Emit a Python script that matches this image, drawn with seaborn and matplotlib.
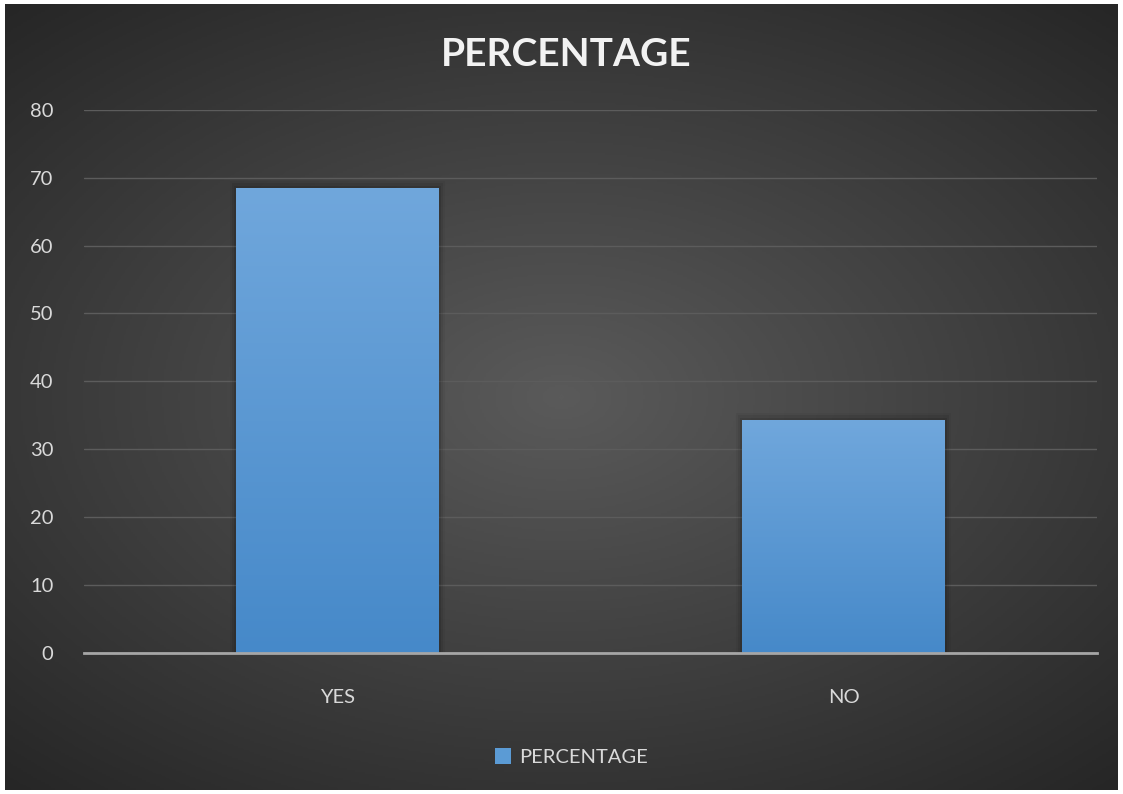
import numpy as np
import pandas as pd
import matplotlib
matplotlib.use("Agg")
import matplotlib.pyplot as plt
import seaborn as sns
from matplotlib.colors import LinearSegmentedColormap

categories = ["YES", "NO"]
percentage = [68.5, 34.3]
yticks = [0, 10, 20, 30, 40, 50, 60, 70, 80]
title = "PERCENTAGE"
legend_label = "PERCENTAGE"

df = pd.DataFrame({"category": categories, "value": percentage})

sns.set_theme(style="dark")
plt.rcParams["font.family"] = ["Lato", "DejaVu Sans"]

W, H = 1123, 794
fig = plt.figure(figsize=(W / 100, H / 100), dpi=100)
fig.patch.set_facecolor("white")

# background radial gradient
bg = fig.add_axes([5 / W, 4 / H, 1 - 10 / W, 1 - 8 / H])
yy, xx = np.mgrid[-1:1:400j, -1:1:560j]
r = np.sqrt((xx * 0.95) ** 2 + (yy * 1.05) ** 2)
img = np.clip(1 - r / 1.45, 0, 1)
bg_cmap = LinearSegmentedColormap.from_list("bg", ["#262626", "#5a5a5a"])
bg.imshow(img, cmap=bg_cmap, aspect="auto", extent=[0, 1, 0, 1])
bg.set_axis_off()

ax = fig.add_axes([84 / W, 1 - 652.5 / H, (1097 - 84) / W, (652.5 - 110) / H])
ax.set_facecolor("none")
sns.barplot(data=df, x="category", y="value", ax=ax, width=0.4,
            color="#5b9bd5", saturation=1, label=legend_label, zorder=3,
            linewidth=0, edgecolor="none")
ax.set_xlim(-0.5, 1.5)
ax.set_ylim(0, 80)
ax.set_yticks(yticks)
ax.grid(axis="y", color="#5c5c5c", linewidth=1, zorder=0)
ax.grid(axis="x", visible=False)
for s in ["top", "right", "left"]:
    ax.spines[s].set_visible(False)
ax.spines["bottom"].set_color("#a6a6a6")
ax.spines["bottom"].set_linewidth(2)
ax.spines["bottom"].set_zorder(5)
ax.tick_params(axis="both", colors="#d9d9d9", labelsize=14.5, length=0)
ax.tick_params(axis="y", pad=22)
ax.tick_params(axis="x", pad=26)
ax.set_xlabel("")
ax.set_ylabel("")

# gradient fill over bars
bar_cmap = LinearSegmentedColormap.from_list("bar", ["#4689c9", "#70a7dc"])
grad = np.linspace(0, 1, 256).reshape(-1, 1)
for p in list(ax.patches):
    x0, y0 = p.get_x(), p.get_y()
    w, h = p.get_width(), p.get_height()
    for k, a in enumerate([0.10, 0.07, 0.04]):
        ax.add_patch(plt.Rectangle((x0 - 0.004 * (k + 1), y0), w + 0.008 * (k + 1),
                                   h + 0.35 * (k + 1), color="black", alpha=a,
                                   zorder=2, linewidth=0))
    im = ax.imshow(grad, cmap=bar_cmap, aspect="auto", origin="lower",
                   extent=[x0, x0 + w, y0, y0 + h], zorder=4)
    im.set_clip_path(p)
ax.set_xlim(-0.5, 1.5)
ax.set_ylim(0, 80)

fig.text(566 / W, 1 - 54 / H, title, ha="center", va="center", color="#f2f2f2",
         fontsize=28, fontweight="bold")

leg = ax.legend(loc="center", bbox_to_anchor=(571 / W, 1 - 757 / H),
                bbox_transform=fig.transFigure, frameon=False, fontsize=14.5,
                handlelength=0.8, handleheight=0.8, handletextpad=0.4)
for t in leg.get_texts():
    t.set_color("#d9d9d9")
for hnd in leg.legend_handles:
    hnd.set_edgecolor("none")

fig.savefig("out.png", dpi=100, facecolor=fig.get_facecolor())
